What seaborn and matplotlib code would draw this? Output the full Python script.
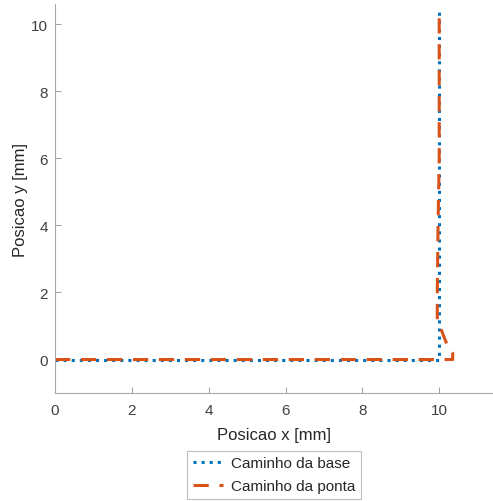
import seaborn as sns
import matplotlib.pyplot as plt
import pandas as pd

# trajectories (mm)
base_x = [0, 2, 4, 6, 8, 10, 10, 10, 10, 10, 10, 10]
base_y = [0, 0, 0, 0, 0, 0, 2, 4, 6, 8, 10, 10.4]
tip_x = [0, 2, 4, 6, 8, 10.35, 10.35, 10.2, 9.95, 9.95, 9.97, 10.0, 10.0, 10.0]
tip_y = [0, 0, 0, 0, 0, 0, 0.2, 0.45, 1.2, 2, 4, 6, 8, 10.45]

labels = ['Caminho da base', 'Caminho da ponta']

df = pd.concat([
    pd.DataFrame({'x': base_x, 'y': base_y, 'caminho': labels[0]}),
    pd.DataFrame({'x': tip_x, 'y': tip_y, 'caminho': labels[1]}),
])

sns.set_style("white")
plt.rcParams['font.family'] = ['Liberation Sans', 'DejaVu Sans']

fig = plt.figure(figsize=(4.93, 5.02), dpi=100)
ax = fig.add_axes([0.1116, 0.215, 0.8884, 0.775])

sns.lineplot(data=df[df.caminho == labels[0]], x='x', y='y', sort=False,
             color='#0072BD', linestyle=':', linewidth=2.2, label=labels[0],
             estimator=None, ax=ax)
sns.lineplot(data=df[df.caminho == labels[1]], x='x', y='y', sort=False,
             color='#D95319', linestyle=(0, (5, 3.5)), linewidth=2.2,
             label=labels[1], estimator=None, ax=ax)

ax.set_xlim(0, 11.4)
ax.set_ylim(-1, 10.6)
ax.set_xticks([0, 2, 4, 6, 8, 10])
ax.set_yticks([0, 2, 4, 6, 8, 10])
ax.set_xlabel('Posicao x [mm]', fontsize=12, color='#262626', labelpad=7)
ax.set_ylabel('Posicao y [mm]', fontsize=12, color='#262626', labelpad=2)
ax.tick_params(direction='in', length=4, width=0.7, colors='#a0a0a0',
               labelcolor='#404040', labelsize=11, bottom=True, left=True)
ax.tick_params(axis='x', pad=7)
ax.tick_params(axis='y', pad=5)
sns.despine(ax=ax)
for s in ['left', 'bottom']:
    ax.spines[s].set_color('#a8a8a8')
    ax.spines[s].set_linewidth(0.8)

leg = ax.legend(loc='center', bbox_to_anchor=(0.556, 0.052), bbox_transform=fig.transFigure,
                frameon=True, fontsize=11, handlelength=2.0, borderpad=0.35,
                labelspacing=0.6, handletextpad=0.5, borderaxespad=0,
                handleheight=0.6, fancybox=False)
leg.get_frame().set_edgecolor('#b0b0b0')
leg.get_frame().set_linewidth(0.8)

fig.savefig('out.png', dpi=100)
